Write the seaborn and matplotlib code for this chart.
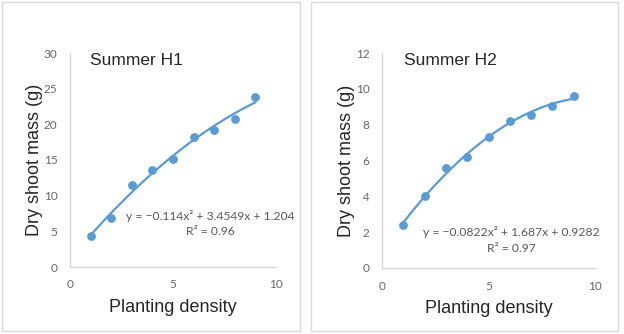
import numpy as np
import matplotlib
matplotlib.use('Agg')
import matplotlib.pyplot as plt
import seaborn as sns
from matplotlib.patches import Rectangle

# data
density = [1, 2, 3, 4, 5, 6, 7, 8, 9]
h1_mass = [4.4, 6.8, 11.5, 13.6, 15.2, 18.2, 19.2, 20.7, 23.9]
h2_mass = [2.4, 4.0, 5.6, 6.2, 7.3, 8.2, 8.55, 9.05, 9.6]

titles = ['Summer H1', 'Summer H2']
equations = ['y = \u22120.114x\u00b2 + 3.4549x + 1.204',
             'y = \u22120.0822x\u00b2 + 1.687x + 0.9282']
r2_labels = ['R\u00b2 = 0.96', 'R\u00b2 = 0.97']
y_ticks = [np.arange(0, 31, 5), np.arange(0, 13, 2)]
x_ticks = [0, 5, 10]

sns.set_style('white')
plt.rcParams['font.family'] = ['Liberation Sans', 'DejaVu Sans']

blue = '#5B9BD5'
grey_txt = '#595959'
W, H = 624, 334

fig = plt.figure(figsize=(6.24, 3.34), dpi=100)

# panel borders
for x0, x1 in [(2, 300), (311, 618)]:
    fig.patches.append(Rectangle((x0 / W, 3 / H), (x1 - x0) / W, 329 / H,
                                 transform=fig.transFigure, fill=False,
                                 edgecolor='#D9D9D9', lw=1))

axes_pos = [[70 / W, 67 / H, 206 / W, 214 / H],
            [382 / W, 66 / H, 213 / W, 215 / H]]
series = [h1_mass, h2_mass]
eq_pos = [(0.68, 0.238, 0.164), (0.606, 0.167, 0.093)]
title_x = [0.097, 0.103]
ylab_x = [-0.13, -0.127]

for i in range(2):
    ax = fig.add_axes(axes_pos[i])
    sns.regplot(x=density, y=series[i], order=2, ci=None, ax=ax, color=blue,
                scatter_kws={'s': 40, 'linewidths': 0, 'alpha': 1},
                line_kws={'lw': 1.6})
    ax.set_xlim(0, 10)
    ax.set_ylim(y_ticks[i][0], y_ticks[i][-1])
    ax.set_xticks(x_ticks)
    ax.set_yticks(y_ticks[i])
    ax.tick_params(length=0, labelsize=8.5, labelcolor='#666666', pad=9)
    for lab in ax.get_xticklabels() + ax.get_yticklabels():
        lab.set_family('Lato')
    for s in ['top', 'right']:
        ax.spines[s].set_visible(False)
    for s in ['left', 'bottom']:
        ax.spines[s].set_color('#D9D9D9')
        ax.spines[s].set_linewidth(1)
    ax.set_xlabel('Planting density', fontsize=13)
    ax.set_ylabel('Dry shoot mass (g)', fontsize=13)
    ax.xaxis.set_label_coords(0.5, -0.15)
    ax.yaxis.set_label_coords(ylab_x[i], 0.5)
    ax.text(title_x[i], 0.967, titles[i], transform=ax.transAxes,
            fontsize=12.5, va='center', ha='left')
    ex, ey, ry = eq_pos[i]
    ax.text(ex, ey, equations[i], transform=ax.transAxes, ha='center',
            va='center', fontsize=8.7, color=grey_txt, family='Lato',
            clip_on=False)
    ax.text(ex, ry, r2_labels[i], transform=ax.transAxes, ha='center',
            va='center', fontsize=8.7, color=grey_txt, family='Lato',
            clip_on=False)

fig.savefig('out.png', dpi=100)
